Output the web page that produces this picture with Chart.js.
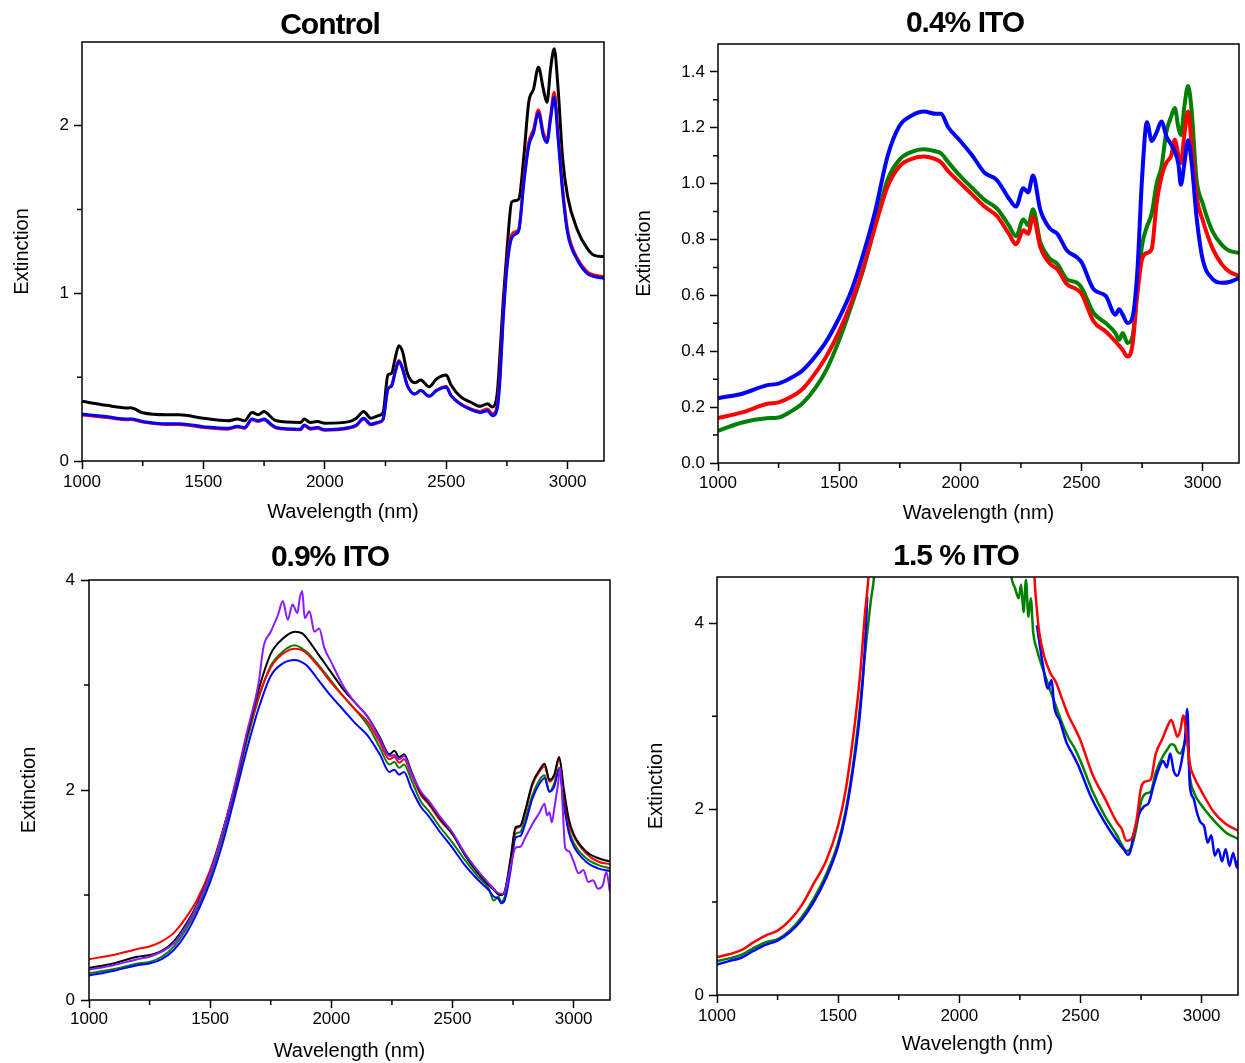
<!DOCTYPE html>
<html>
<head>
<meta charset="utf-8">
<title>Extinction spectra</title>
<script src="https://cdn.jsdelivr.net/npm/chart.js@4.4.1/dist/chart.umd.min.js"></script>
<style>
  html, body { margin: 0; padding: 0; background: #fff; }
  #wrap { position: relative; width: 1245px; height: 1063px; overflow: hidden; }
  canvas { position: absolute; }
  .ttl { position: absolute; font: bold 30px 'Liberation Sans', Arial, sans-serif; letter-spacing: -1px;
         line-height: 30px; white-space: nowrap; transform: translateX(-50%); color: #000; }
</style>
</head>
<body>
<div id="wrap">
  <canvas id="c1" width="620" height="530" style="left:0;top:0"></canvas>
  <canvas id="c2" width="625" height="530" style="left:620px;top:0"></canvas>
  <canvas id="c3" width="620" height="533" style="left:0;top:530px"></canvas>
  <canvas id="c4" width="625" height="533" style="left:620px;top:530px"></canvas>
  <div class="ttl" style="left:330px;top:9px">Control</div>
  <div class="ttl" style="left:965px;top:7px">0.4% ITO</div>
  <div class="ttl" style="left:330px;top:541px">0.9% ITO</div>
  <div class="ttl" style="left:956px;top:540px">1.5 % ITO</div>
</div>
<script>
// shared x axis (nm)
const xTicks = [1000, 1500, 2000, 2500, 3000];
const xMinor = [1250, 1750, 2250, 2750];

// ---- Control ----
const ctrlWl = [1000,1100,1190,1200,1250, 1350,1400,1500,1600,1640, 1670,1700,1725,1750,1780,
  1800,1900,1915,1940,1970, 2000,2100,2130,2160,2190, 2220,2240,2260,2275,2290,
  2305,2320,2340,2370,2395, 2430,2460,2500,2520,2560, 2600,2640,2670,2690,2710,
  2720,2735,2750,2770,2790, 2800,2820,2840,2860,2880, 2900,2915,2930,2945,2960,
  2980,3000,3040,3080,3110, 3150];
const ctrlBlack = [0.356,0.332,0.316,0.318,0.288, 0.276,0.276,0.255,0.24,0.25, 0.24,0.29,0.276,0.296,0.26,
  0.24,0.23,0.25,0.23,0.235, 0.225,0.235,0.255,0.296,0.255, 0.27,0.29,0.513,0.523,0.614,
  0.688,0.654,0.523,0.467,0.483, 0.443,0.489,0.513,0.453,0.382, 0.352,0.326,0.342,0.322,0.40,
  0.60,0.96,1.25,1.545,1.555, 1.565,1.82,2.14,2.22,2.35, 2.22,2.14,2.34,2.46,2.24,
  1.80,1.58,1.38,1.27,1.227, 1.22];
const ctrlBlue = [0.28,0.265,0.25,0.252,0.236, 0.222,0.222,0.205,0.195,0.207, 0.2,0.25,0.24,0.25,0.218,
  0.2,0.19,0.215,0.195,0.2, 0.187,0.2,0.215,0.255,0.22, 0.232,0.25,0.43,0.447,0.53,
  0.593,0.55,0.45,0.4,0.42, 0.386,0.42,0.44,0.39,0.338, 0.308,0.29,0.3,0.27,0.31,
  0.45,0.85,1.15,1.33,1.357, 1.38,1.66,1.88,1.96,2.077, 1.94,1.9,2.04,2.17,1.94,
  1.6,1.36,1.2,1.12,1.1, 1.09];
const ctrlRed = [0.275,0.26,0.246,0.248,0.232, 0.218,0.218,0.2,0.19,0.203, 0.196,0.246,0.236,0.246,0.214,
  0.196,0.186,0.211,0.19,0.195, 0.183,0.196,0.211,0.25,0.216, 0.228,0.246,0.43,0.45,0.535,
  0.6,0.555,0.452,0.4,0.42, 0.386,0.422,0.445,0.392,0.34, 0.312,0.296,0.31,0.282,0.33,
  0.48,0.88,1.17,1.35,1.37, 1.39,1.68,1.9,1.98,2.095, 1.96,1.92,2.06,2.2,1.97,
  1.62,1.38,1.21,1.13,1.11, 1.1];

// ---- 0.4% ITO ----
const ito04Wl = [1000,1100,1200,1250,1300, 1350,1400,1450,1500,1550, 1600,1650,1700,1750,1800,
  1850,1900,1920,1950,2000, 2050,2100,2150,2200,2230, 2260,2280,2300,2330,2370,
  2400,2440,2480,2500,2550, 2600,2640,2655,2670,2690, 2710,2730,2750,2770,2790,
  2810,2830,2850,2870,2885, 2900,2910,2925,2940,2955, 2975,3000,3040,3080,3110, 3150];
const ito04Blue = [0.232,0.248,0.278,0.284,0.304, 0.332,0.38,0.44,0.52,0.616, 0.749,0.906,1.099,1.208,1.244,
  1.258,1.25,1.25,1.202,1.153, 1.1,1.039,1.014,0.948,0.918, 0.984,0.969,1.029,0.906,0.839,
  0.821,0.761,0.737,0.719,0.622, 0.598,0.531,0.55,0.531,0.501, 0.52,0.68,1.02,1.22,1.153,
  1.184,1.223,1.171,1.14,1.115, 1.07,0.996,1.075,1.155,1.07, 0.88,0.73,0.66,0.645,0.648, 0.662];
const ito04Green = [0.115,0.145,0.16,0.163,0.184, 0.215,0.266,0.338,0.44,0.562, 0.694,0.857,1.014,1.087,1.114,
  1.123,1.115,1.109,1.077,1.027, 0.984,0.942,0.912,0.851,0.812, 0.872,0.851,0.908,0.791,0.731,
  0.713,0.658,0.646,0.628,0.537, 0.501,0.465,0.441,0.465,0.43, 0.45,0.62,0.78,0.846,0.894,
  1.0,1.06,1.184,1.24,1.271, 1.2,1.174,1.28,1.35,1.256, 1.013,0.93,0.83,0.78,0.76, 0.752];
const ito04Red = [0.161,0.181,0.211,0.217,0.236, 0.266,0.32,0.386,0.471,0.574, 0.7,0.851,0.99,1.063,1.089,
  1.097,1.087,1.077,1.045,1.002, 0.96,0.918,0.885,0.821,0.783, 0.833,0.821,0.882,0.773,0.713,
  0.694,0.64,0.622,0.606,0.507, 0.471,0.435,0.42,0.405,0.381, 0.42,0.6,0.73,0.752,0.767,
  0.93,1.025,1.075,1.1,1.157, 1.1,1.074,1.18,1.258,1.135, 0.954,0.87,0.77,0.71,0.685, 0.67];

// ---- 0.9% ITO ----
const ito09Wl = [1000,1100,1200,1250,1300, 1350,1400,1450,1500,1550, 1600,1650,1700,1750,1800,
  1850,1880,1900,1950,2000, 2050,2100,2150,2200,2240, 2260,2280,2300,2330,2370,
  2400,2450,2500,2550,2600, 2650,2670,2690,2700,2715, 2740,2760,2780,2800,2830,
  2860,2880,2900,2920,2940, 2960,2980,3000,3050,3100, 3150];
const ito09Red = [0.389,0.428,0.486,0.509,0.558, 0.639,0.784,0.972,1.238,1.595, 2.016,2.486,2.891,3.167,3.297,
  3.345,3.33,3.297,3.167,3.021, 2.891,2.762,2.648,2.454,2.292, 2.314,2.259,2.292,2.146,1.951,
  1.87,1.708,1.579,1.4,1.238, 1.109,1.06,1.005,1.0,1.03, 1.336,1.627,1.653,1.789,2.049,
  2.178,2.227,2.081,2.13,2.292, 1.968,1.692,1.562,1.4,1.319, 1.293];
const ito09Black = [0.305,0.347,0.412,0.428,0.467, 0.558,0.72,0.93,1.212,1.588, 2.016,2.502,2.956,3.297,3.442,
  3.507,3.491,3.442,3.28,3.118, 2.956,2.827,2.697,2.502,2.34, 2.373,2.314,2.34,2.178,1.968,
  1.887,1.724,1.579,1.384,1.222, 1.092,1.05,1.005,1.0,1.03, 1.352,1.643,1.66,1.805,2.065,
  2.195,2.25,2.097,2.146,2.314, 2.0,1.724,1.579,1.417,1.352, 1.319];
const ito09Green = [0.256,0.292,0.347,0.363,0.412, 0.509,0.671,0.888,1.173,1.546, 1.984,2.454,2.875,3.183,3.319,
  3.378,3.345,3.313,3.183,3.037, 2.891,2.762,2.616,2.405,2.243, 2.266,2.211,2.243,2.097,1.887,
  1.806,1.643,1.498,1.336,1.19, 1.06,0.947,0.985,0.937,0.979, 1.287,1.579,1.6,1.724,1.951,
  2.1,2.14,1.984,2.065,2.211, 1.887,1.627,1.498,1.352,1.287, 1.254];
const ito09Blue = [0.233,0.276,0.331,0.347,0.389, 0.476,0.629,0.849,1.125,1.481, 1.919,2.373,2.778,3.086,3.206,
  3.238,3.216,3.183,3.037,2.891, 2.762,2.632,2.519,2.34,2.172, 2.194,2.146,2.172,2.016,1.838,
  1.757,1.595,1.449,1.287,1.157, 1.044,0.985,0.963,0.921,0.947, 1.238,1.546,1.562,1.676,1.919,
  2.065,2.113,1.984,2.032,2.194, 1.854,1.595,1.465,1.319,1.254, 1.229];
const ito09PurpleWl = [1000,1100,1200,1250,1300, 1350,1400,1450,1500,1550, 1600,1650,1700,1720,1750,
  1780,1800,1820,1840,1860, 1870,1880,1890,1910,1930, 1950,1970,2000,2050,2100,
  2150,2200,2240,2260,2280, 2300,2330,2370,2400,2450, 2500,2550,2600,2650,2690,
  2710,2740,2760,2780,2800, 2830,2860,2880,2890,2900, 2910,2920,2935,2945,2955,
  2965,2980,3000,3020,3040, 3060,3080,3100,3120,3135, 3150];
const ito09Purple = [0.288,0.331,0.389,0.412,0.46, 0.541,0.703,0.914,1.206,1.588, 2.032,2.535,3.021,3.361,3.507,
  3.669,3.799,3.621,3.766,3.686, 3.831,3.896,3.637,3.702,3.507, 3.539,3.361,3.216,2.989,2.827,
  2.697,2.486,2.324,2.334,2.292, 2.324,2.162,1.984,1.903,1.741, 1.595,1.4,1.245,1.109,1.018,
  1.011,1.271,1.449,1.459,1.546, 1.676,1.789,1.87,1.757,1.789, 1.692,1.822,2.049,2.211,1.822,
  1.449,1.417,1.319,1.206,1.238, 1.125,1.141,1.06,1.092,1.222, 1.028];

// ---- 1.5 % ITO (saturated band runs off the top; null = no reading) ----
const ito15RedWl = [1000,1050,1100,1150,1200, 1250,1300,1350,1400,1450, 1500,1530,1560,1590,1610,
  1625,1640,1900,2300,2310, 2320,2330,2350,2375,2400, 2425,2450,2475,2500,2550,
  2600,2650,2670,2690,2710, 2730,2750,2770,2790,2810, 2840,2860,2875,2890,2900,
  2912,2924,2938,2952,2970, 3000,3050,3100,3150];
const ito15Red = [0.409,0.438,0.482,0.566,0.639, 0.693,0.803,0.967,1.204,1.442, 1.825,2.19,2.737,3.431,4.088,
  4.5,5.2,null,5.2,4.5, 4.15,3.9,3.65,3.47,3.36, 3.18,3.01,2.88,2.74,2.37,
  2.12,1.86,1.79,1.66,1.68, 1.86,2.23,2.3,2.32,2.59, 2.77,2.9,2.96,2.85,2.78,
  2.85,3.01,2.8,2.48,2.34, 2.19,1.97,1.84,1.77];
const ito15GreenWl = [1000,1050,1100,1150,1200, 1250,1300,1350,1400,1450, 1500,1530,1560,1590,1610,
  1620,1635,1648,1660,1900, 2200,2215,2230,2245,2255, 2265,2275,2285,2295,2305,
  2320,2350,2375,2400,2425, 2450,2475,2500,2550,2600, 2650,2670,2690,2710,2730,
  2750,2770,2790,2810,2840, 2860,2875,2890,2900,2912, 2924,2938,2952,2970,3000,
  3050,3100,3150];
const ito15Green = [0.365,0.394,0.431,0.504,0.566, 0.602,0.693,0.839,1.04,1.296, 1.642,1.971,2.445,3.102,3.65,
  3.905,4.25,4.5,5.0,null, 4.9,4.5,4.38,4.27,4.42, 4.12,4.47,4.07,4.27,3.9,
  3.72,3.47,3.28,3.1,2.92, 2.77,2.66,2.52,2.19,1.93, 1.72,1.62,1.55,1.59,1.79,
  2.08,2.17,2.19,2.39,2.57, 2.65,2.7,2.68,2.62,2.6, 2.66,2.78,2.34,2.17,2.04,
  1.88,1.75,1.68];
const ito15BlueWl = [1000,1050,1100,1150,1200, 1250,1300,1350,1400,1450, 1500,1530,1560,1590,1610,
  1620,1900,2320,2342,2366, 2381,2391,2415,2442,2466, 2491,2542,2591,2642,2662,
  2681,2695,2706,2721,2742, 2762,2782,2801,2821,2841, 2856,2870,2885,2900,2916,
  2931,2941,2951,2966,2980, 2995,3010,3025,3040,3054, 3069,3084,3099,3115,3130,
  3146,3150];
const ito15Blue = [0.328,0.365,0.401,0.474,0.54, 0.584,0.675,0.81,1.004,1.259, 1.606,1.934,2.409,3.029,3.72,
  4.29,null,3.98,3.6,3.3, 3.39,3.12,2.95,2.72,2.6, 2.47,2.14,1.9,1.69,1.62,
  1.56,1.51,1.55,1.75,1.95, 2.03,2.07,2.25,2.42,2.52, 2.45,2.6,2.41,2.36,2.5,
  2.75,3.08,2.26,2.12,1.97, 1.86,1.82,1.64,1.72,1.5, 1.57,1.44,1.57,1.39,1.53,
  1.37,1.45];

const RED = '#ff0000', BLUE = '#0000ff', GREEN = '#008000', BLACK = '#000000', PURPLE = '#8c1aff';
const FONT = "'Liberation Sans', Arial, sans-serif";

// outward minor ticks + closed frame round the plot area
const frameTicks = {
  id: 'frameTicks',
  afterDatasetsDraw(chart, args, opts) {
    const {ctx, chartArea: a, scales: {x, y}} = chart;
    ctx.save();
    ctx.strokeStyle = '#000';
    ctx.lineWidth = 1.5;
    ctx.beginPath();
    opts.x.forEach(v => {
      const px = x.getPixelForValue(v);
      ctx.moveTo(px, a.bottom); ctx.lineTo(px, a.bottom + 5);
    });
    opts.y.forEach(v => {
      const py = y.getPixelForValue(v);
      ctx.moveTo(a.left, py); ctx.lineTo(a.left - 5, py);
    });
    ctx.stroke();
    ctx.strokeRect(a.left, a.top, a.right - a.left, a.bottom - a.top);
    ctx.restore();
  }
};

function makePanel(id, p) {
  const grid = { display: true, drawOnChartArea: false, drawTicks: true, tickLength: 8, tickWidth: 1.5, tickColor: '#000' };
  return new Chart(document.getElementById(id), {
    type: 'line',
    data: {
      datasets: p.series.map(s => ({
        data: s.wl.map((x, i) => ({ x: x, y: s.y[i] })),
        borderColor: s.color,
        borderWidth: p.lw,
        pointRadius: 0,
        fill: false,
        spanGaps: false,
        cubicInterpolationMode: 'monotone',
        clip: 0
      }))
    },
    options: {
      responsive: false,
      animation: false,
      devicePixelRatio: 1,
      layout: { padding: p.pad },
      plugins: {
        legend: { display: false },
        tooltip: { enabled: false },
        frameTicks: { x: xMinor, y: p.yMinor }
      },
      scales: {
        x: {
          type: 'linear', min: 1000, max: 3150,
          afterBuildTicks: s => { s.ticks = xTicks.map(v => ({ value: v })); },
          afterFit: s => { s.height = p.xH; },
          grid: grid, border: { display: false },
          ticks: { color: '#000', font: { family: FONT, size: 17 }, padding: p.xTickPad, maxRotation: 0, callback: v => String(v) },
          title: { display: true, text: 'Wavelength (nm)', color: '#000', font: { family: FONT, size: 20 },
                   padding: { top: 0, bottom: p.xTitlePad } }
        },
        y: {
          type: 'linear', min: p.yMin, max: p.yMax,
          afterBuildTicks: s => { s.ticks = p.yTicks.map(v => ({ value: v })); },
          afterFit: s => { s.width = p.yW; },
          grid: grid, border: { display: false },
          ticks: { color: '#000', font: { family: FONT, size: 17 }, padding: p.yTickPad, callback: p.fmt },
          title: { display: true, text: 'Extinction', color: '#000', font: { family: FONT, size: 20 },
                   padding: { top: p.yTitlePad, bottom: 0 } }
        }
      }
    },
    plugins: [frameTicks]
  });
}

const intLabel = v => String(v);

makePanel('c1', {
  series: [
    { wl: ctrlWl, y: ctrlBlue, color: BLUE },
    { wl: ctrlWl, y: ctrlRed, color: RED },
    { wl: ctrlWl, y: ctrlBlack, color: BLACK }
  ],
  lw: 3, yMin: 0, yMax: 2.5, yTicks: [0, 1, 2], yMinor: [0.5, 1.5], fmt: intLabel,
  pad: { top: 42, right: 16, left: 0, bottom: 0 }, yW: 82, xH: 69,
  xTickPad: 3, yTickPad: 5, xTitlePad: 6, yTitlePad: 10
});

makePanel('c2', {
  series: [
    { wl: ito04Wl, y: ito04Blue, color: BLUE },
    { wl: ito04Wl, y: ito04Red, color: RED },
    { wl: ito04Wl, y: ito04Green, color: GREEN }
  ],
  lw: 4, yMin: 0, yMax: 1.5, yTicks: [0, 0.2, 0.4, 0.6, 0.8, 1.0, 1.2, 1.4],
  yMinor: [0.1, 0.3, 0.5, 0.7, 0.9, 1.1, 1.3], fmt: v => v.toFixed(1),
  pad: { top: 44, right: 6, left: 0, bottom: 0 }, yW: 98, xH: 67,
  xTickPad: 2, yTickPad: 5, xTitlePad: 5, yTitlePad: 12
});

makePanel('c3', {
  series: [
    { wl: ito09PurpleWl, y: ito09Purple, color: PURPLE },
    { wl: ito09Wl, y: ito09Black, color: BLACK },
    { wl: ito09Wl, y: ito09Red, color: RED },
    { wl: ito09Wl, y: ito09Blue, color: BLUE },
    { wl: ito09Wl, y: ito09Green, color: GREEN }
  ],
  lw: 2, yMin: 0, yMax: 4, yTicks: [0, 2, 4], yMinor: [1, 3], fmt: intLabel,
  pad: { top: 50, right: 10, left: 0, bottom: 0 }, yW: 89, xH: 63,
  xTickPad: 1, yTickPad: 6, xTitlePad: 0, yTitlePad: 17
});

makePanel('c4', {
  series: [
    { wl: ito15RedWl, y: ito15Red, color: RED },
    { wl: ito15BlueWl, y: ito15Blue, color: BLUE },
    { wl: ito15GreenWl, y: ito15Green, color: GREEN }
  ],
  lw: 2.5, yMin: 0, yMax: 4.5, yTicks: [0, 2, 4], yMinor: [1, 3], fmt: intLabel,
  pad: { top: 47, right: 7, left: 0, bottom: 0 }, yW: 97, xH: 68,
  xTickPad: 3, yTickPad: 5, xTitlePad: 7, yTitlePad: 24
});
</script>
</body>
</html>
